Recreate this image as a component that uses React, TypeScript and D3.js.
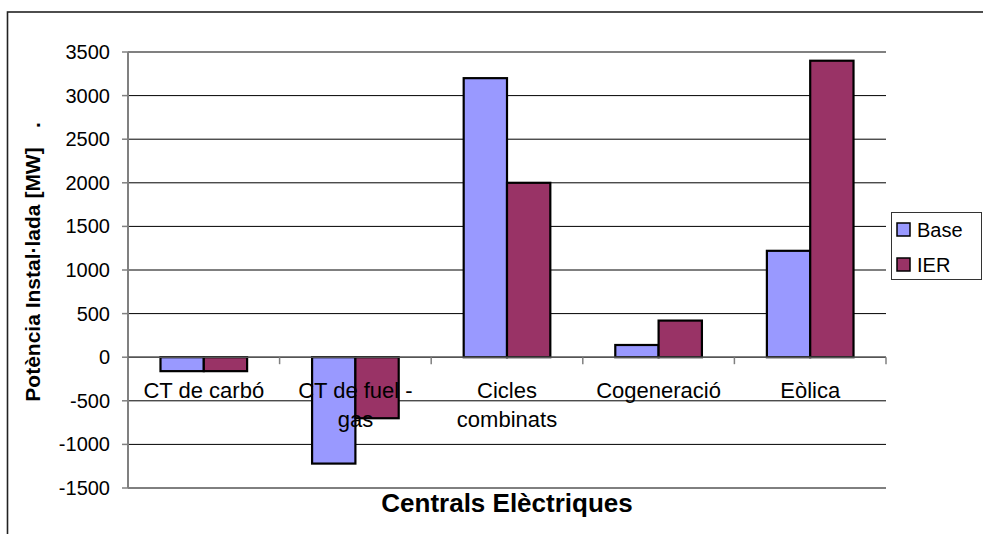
import React from "react";
import * as d3 from "d3";

const categories = ["CT de carbó", "CT de fuel - gas", "Cicles combinats", "Cogeneració", "Eòlica"];
const categoryLines = [["CT de carbó"], ["CT de fuel -", "gas"], ["Cicles", "combinats"], ["Cogeneració"], ["Eòlica"]];
const seriesNames = ["Base", "IER"];
const baseValues = [-160, -1220, 3200, 140, 1220];
const ierValues = [-160, -700, 2000, 420, 3400];
const yTicks = [-1500, -1000, -500, 0, 500, 1000, 1500, 2000, 2500, 3000, 3500];
const colors = ["#9999FF", "#993366"];

const W = 983;
const H = 534;
const plot = { left: 128, right: 886, top: 52, bottom: 488 };
const FONT = "Liberation Sans, Arial, Helvetica, sans-serif";

export default function App() {
  const y = d3.scaleLinear().domain([-1500, 3500]).range([plot.bottom, plot.top]);
  const x = d3.scaleBand<string>().domain(categories).range([plot.left, plot.right]).paddingInner(0).paddingOuter(0);
  const bw = x.bandwidth();
  const barW = bw / 3.5;
  const inner = d3.scaleBand<string>().domain(seriesNames).range([0.75 * barW, 2.75 * barW]);
  const series = [baseValues, ierValues];
  const y0 = y(0);
  const boundaries = [...categories.map((c) => x(c) as number), plot.right];

  return (
    <div style={{ position: "absolute", left: 0, top: 0 }}>
      <svg width={W} height={H} style={{ display: "block", fontFamily: FONT }}>
        <rect x={0} y={0} width={W} height={H} fill="#fff" />
        <rect x={7.5} y={12} width={1100} height={700} fill="#fff" stroke="#222" strokeWidth={1.6} />
        {/* gridlines */}
        {yTicks.map((t) => (
          <line
            key={"g" + t}
            x1={plot.left}
            x2={plot.right}
            y1={y(t)}
            y2={y(t)}
            stroke={t === 3500 ? "#808080" : "#000"}
            strokeWidth={t === 3500 ? 2 : 1}
          />
        ))}
        {/* y axis */}
        <line x1={plot.left} x2={plot.left} y1={plot.top} y2={plot.bottom} stroke="#808080" strokeWidth={2} />
        {yTicks.map((t) => (
          <g key={"t" + t}>
            <line x1={plot.left - 6} x2={plot.left} y1={y(t)} y2={y(t)} stroke="#808080" strokeWidth={1.5} />
            <text x={110} y={y(t) + 7} textAnchor="end" fontSize={20} fill="#000">
              {t}
            </text>
          </g>
        ))}
        {/* bars */}
        {series.map((vals, si) =>
          vals.map((v, i) => {
            const bx = (x(categories[i]) as number) + (inner(seriesNames[si]) as number);
            return (
              <rect
                key={si + "-" + i}
                x={bx}
                y={Math.min(y(v), y0)}
                width={inner.bandwidth()}
                height={Math.abs(y(v) - y0)}
                fill={colors[si]}
                stroke="#000"
                strokeWidth={2.2}
              />
            );
          })
        )}
        {/* x axis */}
        <line x1={plot.left} x2={plot.right} y1={y0} y2={y0} stroke="#555" strokeWidth={1.5} />
        {boundaries.map((bx, i) => (
          <line key={"xt" + i} x1={bx} x2={bx} y1={y0} y2={y0 + 7} stroke="#808080" strokeWidth={1.5} />
        ))}
        {categoryLines.map((lines, i) => (
          <text key={"c" + i} textAnchor="middle" fontSize={22} fill="#000">
            {lines.map((ln, j) => (
              <tspan key={j} x={(x(categories[i]) as number) + bw / 2} y={398 + j * 29}>
                {ln}
              </tspan>
            ))}
          </text>
        ))}
        {/* axis titles */}
        <text x={(plot.left + plot.right) / 2} y={512} textAnchor="middle" fontSize={26} fontWeight="bold" fill="#000">
          Centrals Elèctriques
        </text>
        <text transform={`translate(40,274.5) rotate(-90)`} textAnchor="middle" fontSize={21} fontWeight="bold" fill="#000">
          Potència Instal·lada [MW]
        </text>
        <text transform={`translate(40,125) rotate(-90)`} textAnchor="middle" fontSize={21} fontWeight="bold" fill="#000">
          .
        </text>
        {/* legend */}
        <rect x={891.5} y={212.5} width={90} height={67} fill="#fff" stroke="#333" strokeWidth={1} />
        {seriesNames.map((s, i) => (
          <g key={"l" + s}>
            <rect x={897} y={223 + i * 35} width={13} height={13} fill={colors[i]} stroke="#000" strokeWidth={1.5} />
            <text x={917} y={237 + i * 34.5} fontSize={20} fill="#000">
              {s}
            </text>
          </g>
        ))}
      </svg>
    </div>
  );
}
